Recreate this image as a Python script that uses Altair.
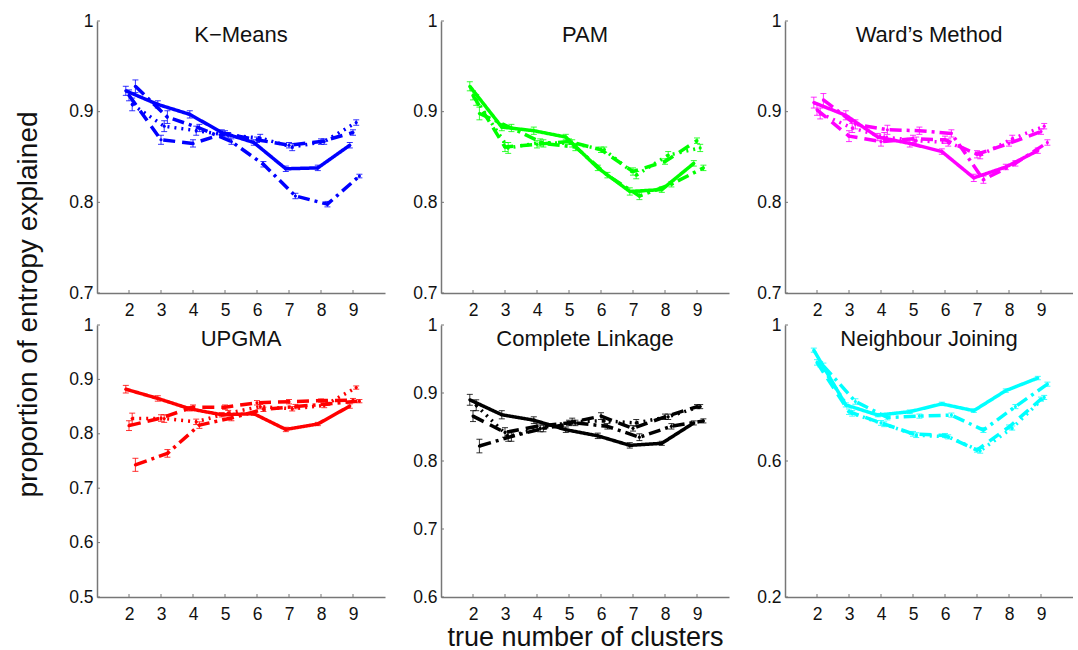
import altair as alt
import pandas as pd

# ---------------- data ----------------
X_CLUSTERS = [2, 3, 4, 5, 6, 7, 8, 9]
SERIES = ["solid", "dashed", "dotted", "dashdot"]
OFFSETS = [-0.1, 0.0, 0.1, 0.2]

PANEL_TITLES = ["K\u2212Means", "PAM", "Ward\u2019s Method",
                "UPGMA", "Complete Linkage", "Neighbour Joining"]
COLORS = ["#0000ff", "#00ff00", "#ff00ff", "#ff0000", "#000000", "#00ffff"]
Y_DOMAINS = [[0.7, 1], [0.7, 1], [0.7, 1], [0.5, 1], [0.6, 1], [0.2, 1]]
Y_TICKS = [[0.7, 0.8, 0.9, 1], [0.7, 0.8, 0.9, 1], [0.7, 0.8, 0.9, 1],
           [0.5, 0.6, 0.7, 0.8, 0.9, 1], [0.6, 0.7, 0.8, 0.9, 1], [0.2, 0.6, 1]]

# K-Means
KM_SOLID = [0.923, 0.908, 0.897, 0.877, 0.866, 0.837, 0.838, 0.863]
KM_DASHED = [0.918, 0.869, 0.865, 0.876, 0.869, 0.863, 0.867, 0.877]
KM_DOTTED = [0.908, 0.884, 0.879, 0.874, 0.871, 0.861, 0.867, 0.888]
KM_DASHDOT = [0.928, 0.894, 0.882, 0.867, 0.842, 0.807, 0.798, 0.829]
KM_SOLID_ERR = [0.005, 0.004, 0.004, 0.003, 0.003, 0.003, 0.003, 0.003]
KM_DASHED_ERR = [0.006, 0.005, 0.004, 0.003, 0.003, 0.003, 0.003, 0.003]
KM_DOTTED_ERR = [0.007, 0.006, 0.005, 0.003, 0.004, 0.004, 0.003, 0.003]
KM_DASHDOT_ERR = [0.007, 0.007, 0.004, 0.003, 0.003, 0.003, 0.003, 0.002]

# PAM
PAM_SOLID = [0.928, 0.883, 0.879, 0.872, 0.838, 0.812, 0.814, 0.843]
PAM_DASHED = [0.918, 0.861, 0.864, 0.867, 0.858, 0.834, 0.845, 0.868]
PAM_DOTTED = [0.913, 0.860, 0.866, 0.865, 0.858, 0.830, 0.852, 0.860]
PAM_DASHDOT = [0.898, 0.882, 0.865, 0.861, 0.830, 0.807, 0.820, 0.838]
PAM_SOLID_ERR = [0.005, 0.004, 0.004, 0.003, 0.003, 0.004, 0.003, 0.003]
PAM_DASHED_ERR = [0.005, 0.005, 0.004, 0.003, 0.003, 0.004, 0.003, 0.003]
PAM_DOTTED_ERR = [0.006, 0.006, 0.004, 0.004, 0.003, 0.004, 0.004, 0.004]
PAM_DASHDOT_ERR = [0.007, 0.004, 0.004, 0.004, 0.003, 0.004, 0.003, 0.003]

# Ward's Method
WARD_SOLID = [0.910, 0.896, 0.872, 0.865, 0.856, 0.827, 0.839, 0.857]
WARD_DASHED = [0.902, 0.873, 0.867, 0.870, 0.869, 0.853, 0.865, 0.878]
WARD_DOTTED = [0.898, 0.882, 0.872, 0.868, 0.866, 0.852, 0.870, 0.884]
WARD_DASHDOT = [0.913, 0.886, 0.880, 0.879, 0.876, 0.825, 0.843, 0.866]
WARD_SOLID_ERR = [0.006, 0.005, 0.004, 0.004, 0.003, 0.004, 0.003, 0.003]
WARD_DASHED_ERR = [0.006, 0.006, 0.005, 0.004, 0.004, 0.004, 0.003, 0.003]
WARD_DOTTED_ERR = [0.006, 0.005, 0.005, 0.004, 0.004, 0.004, 0.004, 0.003]
WARD_DASHDOT_ERR = [0.007, 0.005, 0.005, 0.004, 0.004, 0.004, 0.003, 0.003]

# UPGMA
UPGMA_SOLID = [0.882, 0.865, 0.846, 0.835, 0.837, 0.808, 0.818, 0.851]
UPGMA_DASHED = [0.815, 0.829, 0.849, 0.849, 0.857, 0.859, 0.861, 0.862]
UPGMA_DOTTED = [0.828, 0.828, 0.822, 0.838, 0.850, 0.846, 0.852, 0.885]
UPGMA_DASHDOT = [0.743, 0.764, 0.816, 0.829, 0.845, 0.850, 0.855, 0.860]
UPGMA_SOLID_ERR = [0.007, 0.005, 0.004, 0.004, 0.003, 0.004, 0.003, 0.004]
UPGMA_DASHED_ERR = [0.009, 0.006, 0.004, 0.004, 0.004, 0.004, 0.003, 0.003]
UPGMA_DOTTED_ERR = [0.010, 0.007, 0.005, 0.005, 0.004, 0.004, 0.004, 0.003]
UPGMA_DASHDOT_ERR = [0.012, 0.007, 0.006, 0.005, 0.004, 0.004, 0.003, 0.003]

# Complete Linkage
CL_SOLID = [0.890, 0.868, 0.860, 0.846, 0.837, 0.823, 0.826, 0.856]
CL_DASHED = [0.866, 0.842, 0.851, 0.856, 0.866, 0.848, 0.865, 0.880]
CL_DOTTED = [0.882, 0.836, 0.848, 0.858, 0.859, 0.856, 0.865, 0.880]
CL_DASHDOT = [0.822, 0.836, 0.848, 0.856, 0.851, 0.835, 0.851, 0.859]
CL_SOLID_ERR = [0.008, 0.006, 0.005, 0.004, 0.004, 0.004, 0.003, 0.003]
CL_DASHED_ERR = [0.008, 0.007, 0.005, 0.004, 0.005, 0.004, 0.004, 0.003]
CL_DOTTED_ERR = [0.008, 0.007, 0.005, 0.005, 0.005, 0.005, 0.004, 0.003]
CL_DASHDOT_ERR = [0.010, 0.007, 0.005, 0.004, 0.004, 0.005, 0.004, 0.003]

# Neighbour Joining
NJ_SOLID = [0.926, 0.765, 0.735, 0.745, 0.768, 0.748, 0.807, 0.844]
NJ_DASHED = [0.890, 0.745, 0.712, 0.680, 0.675, 0.632, 0.700, 0.782]
NJ_DOTTED = [0.885, 0.740, 0.708, 0.676, 0.671, 0.630, 0.697, 0.787]
NJ_DASHDOT = [0.880, 0.775, 0.728, 0.732, 0.735, 0.691, 0.760, 0.826]
NJ_SOLID_ERR = [0.006, 0.006, 0.005, 0.005, 0.005, 0.005, 0.005, 0.005]
NJ_DASHED_ERR = [0.008, 0.008, 0.007, 0.007, 0.006, 0.006, 0.006, 0.006]
NJ_DOTTED_ERR = [0.008, 0.008, 0.007, 0.007, 0.006, 0.007, 0.006, 0.006]
NJ_DASHDOT_ERR = [0.008, 0.008, 0.007, 0.006, 0.006, 0.007, 0.006, 0.006]

PANEL_VALUES = [
    [KM_SOLID, KM_DASHED, KM_DOTTED, KM_DASHDOT],
    [PAM_SOLID, PAM_DASHED, PAM_DOTTED, PAM_DASHDOT],
    [WARD_SOLID, WARD_DASHED, WARD_DOTTED, WARD_DASHDOT],
    [UPGMA_SOLID, UPGMA_DASHED, UPGMA_DOTTED, UPGMA_DASHDOT],
    [CL_SOLID, CL_DASHED, CL_DOTTED, CL_DASHDOT],
    [NJ_SOLID, NJ_DASHED, NJ_DOTTED, NJ_DASHDOT],
]
PANEL_ERRS = [
    [KM_SOLID_ERR, KM_DASHED_ERR, KM_DOTTED_ERR, KM_DASHDOT_ERR],
    [PAM_SOLID_ERR, PAM_DASHED_ERR, PAM_DOTTED_ERR, PAM_DASHDOT_ERR],
    [WARD_SOLID_ERR, WARD_DASHED_ERR, WARD_DOTTED_ERR, WARD_DASHDOT_ERR],
    [UPGMA_SOLID_ERR, UPGMA_DASHED_ERR, UPGMA_DOTTED_ERR, UPGMA_DASHDOT_ERR],
    [CL_SOLID_ERR, CL_DASHED_ERR, CL_DOTTED_ERR, CL_DASHDOT_ERR],
    [NJ_SOLID_ERR, NJ_DASHED_ERR, NJ_DOTTED_ERR, NJ_DASHDOT_ERR],
]

Y_TITLE = "proportion of entropy explained"
X_TITLE = "true number of clusters"

# ---------------- style ----------------
W, H = 288, 272
FONT = "Liberation Sans"
AXIS_GRAY = "#777777"
DASHES = [[1, 0], [12, 7], [2, 5], [12, 5, 3, 5]]
WIDTHS = [3.5, 3.5, 2.0, 3.0]


def panel(idx):
    rows = []
    for s, off, vals, errs in zip(SERIES, OFFSETS, PANEL_VALUES[idx], PANEL_ERRS[idx]):
        for k, v, e in zip(X_CLUSTERS, vals, errs):
            rows.append(dict(series=s, x=k + off, y=v, lo=v - e, hi=v + e))
    df = pd.DataFrame(rows)
    color = COLORS[idx]
    xs = alt.Scale(domain=[1, 10], nice=False, zero=False)
    ys = alt.Scale(domain=Y_DOMAINS[idx], nice=False, zero=False)

    xaxis_kw = dict(values=X_CLUSTERS, ticks=False, grid=False, labelFontSize=17.5,
                    labelPadding=8, labelColor="#111111", domainColor=AXIS_GRAY,
                    domainWidth=1.5, labelFont=FONT)
    if idx == 4:
        xaxis = alt.Axis(title=X_TITLE, titleFontSize=27, titleFontWeight="normal",
                         titleFont=FONT, titleColor="#111111", titleY=48,
                         titleBaseline="alphabetic", **xaxis_kw)
    else:
        xaxis = alt.Axis(title=None, **xaxis_kw)
    yaxis_kw = dict(values=Y_TICKS[idx], format="~g", ticks=False, grid=False,
                    labelFontSize=17.5, labelPadding=4, labelColor="#111111",
                    domainColor=AXIS_GRAY, domainWidth=1.5, labelFont=FONT)
    if idx == 0:
        yaxis = alt.Axis(title=Y_TITLE, titleFontSize=28, titleFontWeight="normal",
                         titleFont=FONT, titleColor="#111111", titleX=-69,
                         titleY=H + 11, titleAngle=270, titleBaseline="middle",
                         titleAlign="center", **yaxis_kw)
    else:
        yaxis = alt.Axis(title=None, **yaxis_kw)

    def X(f):
        return alt.X(f, type="quantitative", scale=xs, axis=xaxis)

    def Y(f):
        return alt.Y(f, type="quantitative", scale=ys, axis=yaxis)

    base = alt.Chart(df)
    lines = base.mark_line(color=color, strokeCap="butt", strokeJoin="round").encode(
        x=X("x"), y=Y("y"),
        strokeDash=alt.StrokeDash("series:N", scale=alt.Scale(domain=SERIES, range=DASHES), legend=None),
        strokeWidth=alt.StrokeWidth("series:N", scale=alt.Scale(domain=SERIES, range=WIDTHS), legend=None),
    )
    bars = base.mark_rule(color=color, strokeWidth=1, opacity=0.8).encode(
        x=X("x"), y=Y("lo"), y2="hi:Q")
    cap_lo = base.mark_tick(color=color, orient="horizontal", size=6, thickness=1, opacity=0.8).encode(
        x=X("x"), y=Y("lo"))
    cap_hi = base.mark_tick(color=color, orient="horizontal", size=6, thickness=1, opacity=0.8).encode(
        x=X("x"), y=Y("hi"))
    pts = base.mark_circle(color=color, size=10, opacity=1).encode(x=X("x"), y=Y("y"))

    xt = alt.Chart(pd.DataFrame({"x": X_CLUSTERS})).mark_rule(color=AXIS_GRAY, strokeWidth=1).encode(
        x=X("x"), y=alt.value(H), y2=alt.value(H - 3))
    yt = alt.Chart(pd.DataFrame({"y": Y_TICKS[idx]})).mark_rule(color=AXIS_GRAY, strokeWidth=1).encode(
        y=Y("y"), x=alt.value(0), x2=alt.value(3))

    title = alt.Chart(pd.DataFrame({"t": [PANEL_TITLES[idx]]})).mark_text(
        fontSize=22, font=FONT, color="#111111", align="center", baseline="alphabetic").encode(
        text="t:N", x=alt.value(W / 2), y=alt.value(21))

    return alt.layer(lines, bars, cap_lo, cap_hi, pts, xt, yt, title).properties(width=W, height=H)


chart = alt.concat(*[panel(i) for i in range(6)], columns=3,
                   spacing={"row": 32, "column": 56}, bounds="flush").properties(
    padding={"left": 14, "top": 12, "right": 0, "bottom": 0}
).configure_view(stroke=None)

chart.save("out.html", embed_options={"renderer": "svg", "actions": False})
